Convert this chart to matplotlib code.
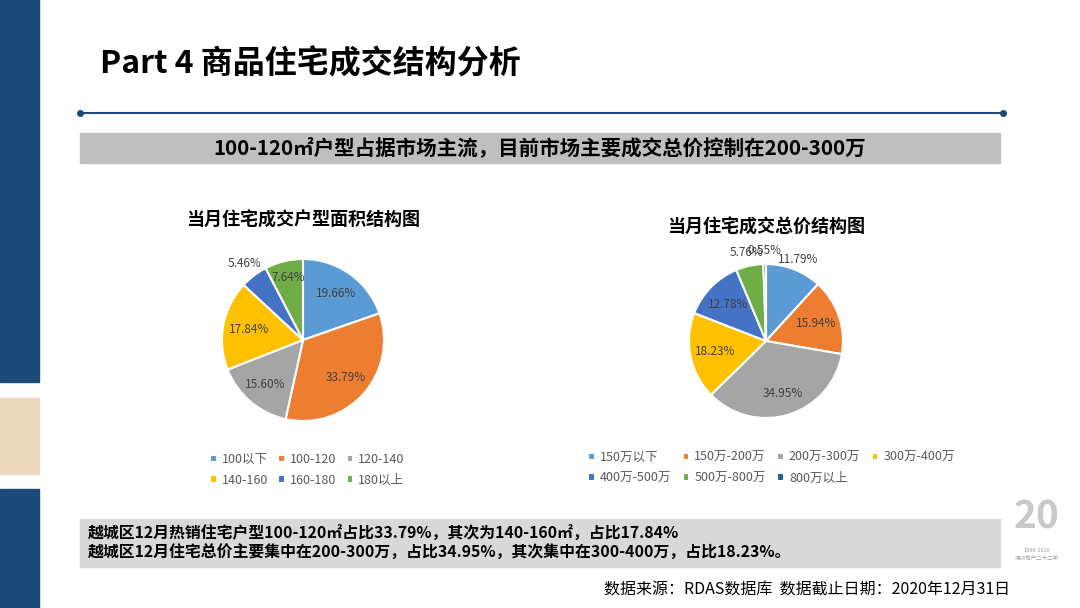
import numpy as np
import matplotlib.pyplot as plt
from matplotlib.patches import Rectangle

plt.rcParams['font.family'] = ['Noto Sans CJK SC', 'DejaVu Sans']

W, H = 1080, 608

# 户型面积结构
area_labels = ['100以下', '100-120', '120-140', '140-160', '160-180', '180以上']
area_pct = [19.66, 33.79, 15.60, 17.84, 5.46, 7.64]

# 总价结构
price_labels = ['150万以下', '150万-200万', '200万-300万', '300万-400万',
                '400万-500万', '500万-800万', '800万以上']
price_pct = [11.79, 15.94, 34.95, 18.23, 12.78, 5.76, 0.55]

colors = ['#5B9BD5', '#ED7D31', '#A5A5A5', '#FFC000', '#4472C4', '#70AD47', '#255E91']
navy = '#1B4A7A'


def fx(x):
    return x / W


def fy(y):
    return 1 - y / H


fig = plt.figure(figsize=(W / 100, H / 100), dpi=100)
fig.patch.set_facecolor('white')

# left strip
fig.patches.append(Rectangle((0, fy(382)), fx(39), 382 / H, transform=fig.transFigure, color=navy, zorder=0))
fig.patches.append(Rectangle((0, fy(474)), fx(39), 76 / H, transform=fig.transFigure, color='#ECD9BD', zorder=0))
fig.patches.append(Rectangle((0, 0), fx(39), (H - 489) / H, transform=fig.transFigure, color=navy, zorder=0))

# header
fig.text(fx(100), fy(64), 'Part 4 商品住宅成交结构分析', fontsize=23, fontweight='bold',
         ha='left', va='center', color='black')
fig.add_artist(plt.Line2D([fx(80), fx(1003)], [fy(113), fy(113)], transform=fig.transFigure,
                          color=navy, lw=1.5, marker='o', markersize=4, markevery=[0, 1]))

fig.patches.append(Rectangle((fx(80), fy(163)), fx(920), 30 / H, transform=fig.transFigure,
                             color='#BFBFBF', zorder=0))
fig.text(fx(540), fy(148), '100-120㎡户型占据市场主流，目前市场主要成交总价控制在200-300万',
         fontsize=14.8, fontweight='bold', ha='center', va='center', color='black')


def row_order(n, ncol):
    # matplotlib fills legend columns first; reorder so items read row by row
    nrow = int(np.ceil(n / ncol))
    return [r * ncol + c for c in range(ncol) for r in range(nrow) if r * ncol + c < n]


def draw_pie(cx, cy, r, vals, labels, dists, title, ty, leg_y, ncol, leg_x, colsp):
    ax = fig.add_axes([fx(cx - r), fy(cy + r), 2 * r / W, 2 * r / H])
    wedges, _ = ax.pie(vals, colors=colors[:len(vals)], startangle=90, counterclock=False,
                       wedgeprops=dict(edgecolor='white', linewidth=1.5))
    total = sum(vals)
    start = 90.0
    for v, d in zip(vals, dists):
        mid = np.deg2rad(start - 360 * v / total / 2)
        start -= 360 * v / total
        ax.text(d * np.cos(mid), d * np.sin(mid), '%.2f%%' % v, ha='center', va='center',
                fontsize=8.5, color='#404040')
    ax.set_xlim(-1, 1)
    ax.set_ylim(-1, 1)
    fig.text(fx(cx), fy(ty), title, fontsize=13, fontweight='bold', ha='center', va='center')
    order = row_order(len(vals), ncol)
    fig.legend([wedges[i] for i in order], [labels[i] for i in order], ncol=ncol,
               loc='upper left', bbox_to_anchor=(fx(leg_x), fy(leg_y)),
               frameon=False, fontsize=9, handlelength=0.55, handleheight=0.55, handletextpad=0.4,
               columnspacing=colsp, labelspacing=0.6, labelcolor='#595959',
               borderaxespad=0, borderpad=0)


draw_pie(303, 340, 81, area_pct, area_labels, [0.71, 0.70, 0.72, 0.68, 1.19, 0.79],
         '当月住宅成交户型面积结构图', 220, 453, 3, 210, 0.8)
draw_pie(766, 341, 77, price_pct, price_labels, [1.14, 0.69, 0.72, 0.68, 0.68, 1.17, 1.18],
         '当月住宅成交总价结构图', 227, 451, 4, 588, 0.9)

# bottom note
fig.patches.append(Rectangle((fx(80), fy(567)), fx(920), 48 / H, transform=fig.transFigure,
                             color='#D9D9D9', zorder=0))
fig.text(fx(88), fy(533), '越城区12月热销住宅户型100-120㎡占比33.79%，其次为140-160㎡，占比17.84%',
         fontsize=11.4, fontweight='bold', ha='left', va='center')
fig.text(fx(88), fy(553), '越城区12月住宅总价主要集中在200-300万，占比34.95%，其次集中在300-400万，占比18.23%。',
         fontsize=11.4, fontweight='bold', ha='left', va='center')
fig.text(fx(1010), fy(590), '数据来源：RDAS数据库  数据截止日期：2020年12月31日',
         fontsize=11.5, ha='right', va='center', color='black')

# logo
fig.text(fx(1037), fy(517), '20', fontsize=28, fontweight='bold', ha='center', va='center',
         color='#C8C8C8', style='italic')
fig.text(fx(1037), fy(551), '1998-2020', fontsize=4, ha='center', va='center', color='#9E9E9E')
fig.text(fx(1037), fy(558), '深圳地产二十二年', fontsize=4, ha='center', va='center', color='#9E9E9E')

fig.savefig('out.png', dpi=100)
